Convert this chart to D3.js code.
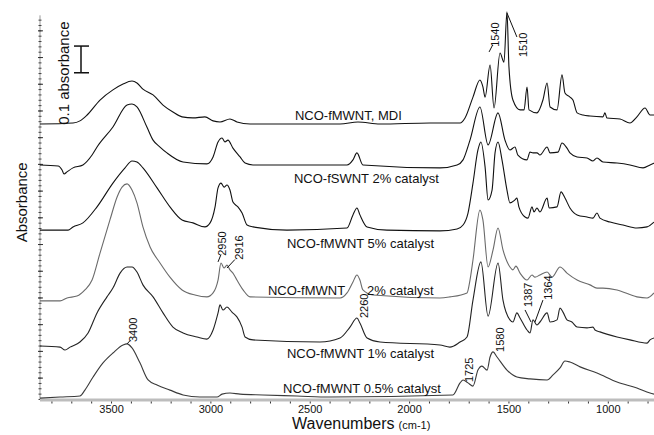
<!DOCTYPE html>
<html>
<head>
<meta charset="utf-8">
<script src="https://cdn.jsdelivr.net/npm/d3@7"></script>
<style>
  body { margin: 0; background: #fff; }
  text { font-family: Arial, "Liberation Sans", sans-serif; fill: #111; }
</style>
</head>
<body>
<div id="chart"></div>
<script>
// spectra: [wavenumber (cm-1), absorbance incl. stacking offset]
const mdi = [[3860,1.033],[3694,1.037],[3659,1.045],[3623,1.067],[3558,1.123],[3493,1.161],[3442,1.183],[3397,1.194],[3372,1.187],[3342,1.164],[3291,1.142],[3241,1.104],[3191,1.078],[3145,1.060],[3090,1.056],[3030,1.060],[2989,1.045],[2954,1.041],[2904,1.052],[2869,1.041],[2803,1.033],[2350,1.033],[2260,1.041],[2149,1.033],[1897,1.037],[1746,1.037],[1721,1.056],[1681,1.134],[1646,1.198],[1631,1.172],[1620,1.134],[1595,1.254],[1575,1.093],[1545,1.299],[1525,1.265],[1510,1.453],[1500,1.247],[1480,1.123],[1444,1.086],[1424,1.086],[1409,1.172],[1399,1.086],[1359,1.075],[1329,1.123],[1308,1.187],[1293,1.097],[1258,1.086],[1233,1.217],[1218,1.149],[1193,1.134],[1178,1.123],[1157,1.075],[1127,1.067],[1092,1.063],[1027,1.060],[1017,1.075],[1007,1.056],[941,1.052],[891,1.037],[856,1.060],[815,1.093],[790,1.067],[770,1.067]];
const fswnt2 = [[3860,0.880],[3769,0.876],[3749,0.861],[3739,0.846],[3724,0.854],[3694,0.869],[3644,0.880],[3598,0.917],[3573,0.947],[3493,1.022],[3422,1.104],[3397,1.108],[3372,1.097],[3322,1.022],[3291,0.973],[3256,0.947],[3221,0.925],[3140,0.891],[3020,0.884],[2989,0.910],[2964,0.966],[2944,0.981],[2929,0.966],[2914,0.973],[2889,0.943],[2853,0.910],[2828,0.887],[2788,0.880],[2315,0.880],[2285,0.899],[2265,0.925],[2235,0.880],[1847,0.869],[1761,0.880],[1731,0.899],[1696,0.973],[1646,1.097],[1605,0.955],[1555,1.075],[1520,0.973],[1495,0.936],[1470,0.947],[1455,0.917],[1409,0.899],[1394,0.928],[1379,0.925],[1359,0.925],[1344,0.917],[1308,0.947],[1293,0.925],[1253,0.928],[1233,0.962],[1208,0.943],[1193,0.925],[1157,0.910],[1107,0.906],[1077,0.895],[1057,0.906],[1027,0.891],[956,0.887],[891,0.880],[825,0.869],[790,0.880],[770,0.887]];
const fmwnt5 = [[3860,0.636],[3719,0.636],[3694,0.648],[3644,0.663],[3573,0.723],[3493,0.812],[3432,0.869],[3397,0.895],[3372,0.891],[3342,0.869],[3271,0.794],[3206,0.723],[3145,0.674],[3090,0.663],[3030,0.648],[3004,0.663],[2979,0.723],[2964,0.794],[2949,0.812],[2934,0.797],[2919,0.805],[2904,0.786],[2889,0.741],[2864,0.723],[2843,0.700],[2818,0.655],[2788,0.648],[2617,0.636],[2315,0.644],[2285,0.693],[2265,0.719],[2250,0.693],[2214,0.648],[2114,0.636],[1847,0.633],[1761,0.640],[1731,0.655],[1706,0.700],[1681,0.812],[1656,0.936],[1641,0.966],[1620,0.872],[1605,0.749],[1585,0.786],[1570,0.925],[1555,0.966],[1535,0.899],[1510,0.786],[1495,0.738],[1470,0.749],[1460,0.756],[1450,0.723],[1419,0.685],[1404,0.681],[1384,0.723],[1374,0.704],[1359,0.719],[1344,0.704],[1308,0.756],[1298,0.719],[1258,0.723],[1238,0.779],[1218,0.756],[1193,0.719],[1157,0.693],[1107,0.685],[1077,0.681],[1057,0.700],[1042,0.681],[991,0.666],[926,0.655],[856,0.644],[805,0.648],[770,0.666]];
const fmwnt2 = [[3860,0.371],[3759,0.371],[3724,0.382],[3674,0.389],[3634,0.412],[3598,0.449],[3558,0.550],[3508,0.674],[3472,0.760],[3447,0.797],[3422,0.809],[3397,0.786],[3372,0.738],[3342,0.648],[3306,0.573],[3256,0.513],[3206,0.460],[3145,0.412],[3080,0.393],[3020,0.386],[2989,0.401],[2964,0.449],[2949,0.513],[2934,0.494],[2919,0.505],[2904,0.487],[2889,0.475],[2869,0.449],[2838,0.412],[2803,0.386],[2350,0.382],[2315,0.401],[2285,0.442],[2265,0.468],[2250,0.449],[2235,0.412],[2184,0.393],[1847,0.382],[1797,0.386],[1711,0.401],[1696,0.449],[1681,0.524],[1646,0.711],[1631,0.674],[1605,0.498],[1580,0.562],[1555,0.644],[1530,0.562],[1495,0.498],[1480,0.487],[1465,0.501],[1444,0.475],[1409,0.449],[1384,0.468],[1369,0.460],[1344,0.468],[1308,0.479],[1283,0.460],[1243,0.498],[1208,0.475],[1157,0.449],[1092,0.431],[1057,0.419],[1027,0.419],[956,0.412],[856,0.386],[805,0.382],[770,0.401]];
const fmwnt1 = [[3860,0.202],[3759,0.198],[3734,0.187],[3709,0.198],[3659,0.217],[3618,0.251],[3573,0.326],[3523,0.386],[3493,0.419],[3457,0.475],[3422,0.498],[3397,0.498],[3372,0.479],[3342,0.431],[3291,0.386],[3241,0.326],[3191,0.273],[3140,0.251],[3070,0.236],[3020,0.228],[2989,0.262],[2964,0.326],[2954,0.356],[2939,0.337],[2919,0.348],[2894,0.329],[2869,0.311],[2843,0.273],[2828,0.236],[2788,0.225],[2451,0.217],[2350,0.232],[2300,0.273],[2265,0.307],[2250,0.288],[2214,0.232],[2149,0.217],[1847,0.206],[1797,0.198],[1746,0.217],[1711,0.236],[1681,0.374],[1641,0.517],[1605,0.314],[1555,0.513],[1530,0.374],[1495,0.300],[1480,0.292],[1460,0.326],[1444,0.307],[1409,0.262],[1394,0.251],[1379,0.300],[1359,0.281],[1344,0.292],[1308,0.326],[1293,0.292],[1258,0.300],[1243,0.344],[1228,0.329],[1208,0.300],[1183,0.292],[1157,0.273],[1107,0.270],[1077,0.273],[1067,0.262],[1042,0.255],[956,0.236],[891,0.225],[805,0.213],[790,0.225],[770,0.232]];
const fmwnt05 = [[3860,0.007],[3759,0.011],[3659,0.015],[3634,0.037],[3593,0.086],[3543,0.139],[3493,0.176],[3442,0.206],[3422,0.210],[3397,0.195],[3357,0.139],[3316,0.075],[3271,0.056],[3206,0.037],[3140,0.019],[3055,0.011],[2969,0.011],[2944,0.022],[2904,0.026],[2853,0.022],[2738,0.019],[2567,0.015],[2401,0.011],[1782,0.019],[1746,0.064],[1731,0.075],[1706,0.064],[1681,0.052],[1656,0.112],[1636,0.127],[1610,0.112],[1595,0.161],[1580,0.180],[1560,0.161],[1510,0.112],[1460,0.086],[1394,0.079],[1308,0.075],[1278,0.094],[1243,0.120],[1218,0.146],[1193,0.142],[1142,0.124],[1057,0.101],[956,0.067],[856,0.045],[790,0.026],[770,0.022]];

const spectra = [mdi, fswnt2, fmwnt5, fmwnt2, fmwnt1, fmwnt05];
const seriesColors = ['#111', '#111', '#111', '#6a6a6a', '#222', '#3a3a3a'];

// curve labels: text, start wavenumber, baseline absorbance
const curveLabels = [
  ['NCO-fMWNT, MDI', 2577, 1.048],
  ['NCO-fSWNT 2% catalyst', 2582, 0.812],
  ['NCO-fMWNT 5% catalyst', 2617, 0.569],
  ['NCO-fMWNT', 2713, 0.393],
  ['2% catalyst', 2214, 0.393],
  ['NCO-fMWNT 1% catalyst', 2617, 0.157],
  ['NCO-fMWNT 0.5% catalyst', 2637, 0.026]
];

// peak labels: text, wavenumber (centre), absorbance at text foot
const peakLabels = [
  ['1540', 1570, 1.322], ['1510', 1429, 1.284],
  ['2950', 2944, 0.540], ['2916', 2858, 0.525],
  ['2260', 2230, 0.307],
  ['1387', 1404, 0.348], ['1364', 1303, 0.375],
  ['3400', 3392, 0.217], ['1725', 1701, 0.067], ['1580', 1545, 0.180]
];
// leader lines: [w1, a1, w2, a2]
const leaders = [
  [1600, 1.303, 1582, 1.329], [1510, 1.449, 1460, 1.359],
  [2964, 0.517, 2949, 0.545], [2919, 0.494, 2879, 0.526],
  [1419, 0.337, 1389, 0.292], [1329, 0.374, 1369, 0.292],
  [3422, 0.210, 3407, 0.222]
];

const xTicks = [3500, 3000, 2500, 2000, 1500, 1000];

const width = 654, height = 435;
const svg = d3.select('#chart').append('svg')
  .attr('width', width).attr('height', height);

const x = d3.scaleLinear().domain([3860, 770]).range([40, 654]);
const y = d3.scaleLinear().domain([0, 1.46]).range([400, 10]);

// left axis: unlabelled, many small ticks
const yAxis = svg.append('g').attr('transform', 'translate(40,0)');
yAxis.append('line').attr('y1', y(1.44)).attr('y2', y(0))
  .attr('stroke', '#999').attr('stroke-width', 1);
yAxis.selectAll('.minor').data(d3.range(0.002, 1.44, 0.02)).enter().append('line')
  .attr('x1', -1.5).attr('x2', 1.5)
  .attr('y1', d => y(d)).attr('y2', d => y(d))
  .attr('stroke', '#444').attr('stroke-width', 1);
yAxis.selectAll('.major').data(d3.range(0.082, 1.44, 0.1)).enter().append('line')
  .attr('x1', -2).attr('x2', 3)
  .attr('y1', d => y(d)).attr('y2', d => y(d))
  .attr('stroke', '#333').attr('stroke-width', 1);

// bottom axis
const xAxisG = svg.append('g').attr('transform', 'translate(0,400)');
xAxisG.append('line').attr('x1', 40).attr('x2', 654)
  .attr('stroke', '#bdbdbd').attr('stroke-width', 3);
xAxisG.selectAll('.tk').data(d3.range(3800, 770, -100)).enter().append('line')
  .attr('x1', d => x(d)).attr('x2', d => x(d))
  .attr('y1', 1.5).attr('y2', 3.5)
  .attr('stroke', '#333').attr('stroke-width', 1);
xAxisG.selectAll('.lb').data(xTicks).enter().append('text')
  .attr('x', d => x(d)).attr('y', 12.5)
  .attr('text-anchor', 'middle').attr('font-size', 11)
  .text(d => d);

svg.append('text').attr('x', 292).attr('y', 429)
  .attr('font-size', 16).text('Wavenumbers')
  .append('tspan').attr('font-size', 11).attr('dx', 4).text('(cm-1)');

svg.append('text')
  .attr('transform', `translate(27,${y(0.74)}) rotate(-90)`)
  .attr('text-anchor', 'middle').attr('font-size', 15).text('Absorbance');

svg.append('text')
  .attr('transform', `translate(69,${y(1.03)}) rotate(-90)`)
  .attr('font-size', 15).text('0.1 absorbance');

// scale bar 0.1 absorbance
const bar = svg.append('g').attr('stroke', '#111').attr('stroke-width', 1.5);
bar.append('line').attr('x1', 81).attr('x2', 81).attr('y1', y(1.225)).attr('y2', y(1.325));
bar.append('line').attr('x1', 74).attr('x2', 89).attr('y1', y(1.225)).attr('y2', y(1.225));
bar.append('line').attr('x1', 74).attr('x2', 89).attr('y1', y(1.325)).attr('y2', y(1.325));

// spectra
const line = d3.line().x(d => x(d[0])).y(d => y(d[1])).curve(d3.curveMonotoneX);
svg.selectAll('.spec').data(spectra).enter().append('path')
  .attr('d', line)
  .attr('fill', 'none')
  .attr('stroke', (d, i) => seriesColors[i])
  .attr('stroke-width', 1.1);

svg.selectAll('.clab').data(curveLabels).enter().append('text')
  .attr('x', d => x(d[1])).attr('y', d => y(d[2]))
  .attr('font-size', 13).text(d => d[0]);

svg.selectAll('.plab').data(peakLabels).enter().append('text')
  .attr('transform', d => `translate(${x(d[1]) + 4},${y(d[2])}) rotate(-90)`)
  .attr('font-size', 11).text(d => d[0]);

svg.selectAll('.lead').data(leaders).enter().append('line')
  .attr('x1', d => x(d[0])).attr('y1', d => y(d[1]))
  .attr('x2', d => x(d[2])).attr('y2', d => y(d[3]))
  .attr('stroke', '#111').attr('stroke-width', 1);
</script>
</body>
</html>
